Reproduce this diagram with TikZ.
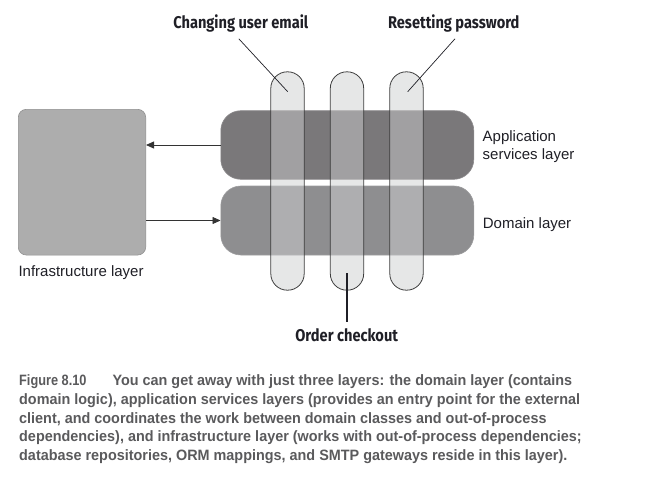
\documentclass[tikz,border=0pt]{standalone}
\usepackage{fontspec}
\setmainfont{Liberation Sans}
\newfontfamily\labelfont[FakeStretch=0.86]{Fira Sans}
\newfontfamily\figfont[FakeStretch=0.85]{Liberation Sans}
\newfontfamily\captionfont[FakeStretch=0.96]{Liberation Sans}
\usetikzlibrary{arrows.meta}

\definecolor{pillgray}{HTML}{E6E7E7}
\definecolor{pillline}{HTML}{3C3C3C}
\definecolor{appgray}{HTML}{7A787A}
\definecolor{appline}{HTML}{8E8C8E}
\definecolor{domgray}{HTML}{8E8E90}
\definecolor{domline}{HTML}{9C9C9E}
\definecolor{infragray}{HTML}{ADADAD}
\definecolor{infraline}{HTML}{8F8F8F}
\definecolor{labelink}{HTML}{1F1F26}
\definecolor{arrowgray}{HTML}{333333}
\definecolor{capgray}{HTML}{5A5A5C}

\begin{document}
\begin{tikzpicture}[x=1pt,y=-1pt,
	layer/.style={rounded corners=20pt, minimum width=253pt, inner sep=0pt, line width=0.6pt},
	pill/.style={rounded corners=16.5pt, minimum width=33pt, minimum height=218pt, inner sep=0pt, fill=pillgray},
	pilltop/.style={rounded corners=16.5pt, fill=pillgray, fill opacity=0.37, draw=pillline, line width=0.8pt},
	usecase/.style={font=\labelfont\bfseries\fontsize{17}{20}\selectfont, text=labelink, inner sep=0pt},
	layername/.style={font=\fontsize{15}{17.6}\selectfont, text=labelink, inner sep=0pt, align=left},
	flow/.style={-{Triangle[length=8pt,width=7pt]}, line width=0.8pt, draw=arrowgray},
	leader/.style={line width=0.7pt, draw=labelink}]
	\useasboundingbox (0,0) rectangle (651,487);
	% use cases, below the layers
	\node[pill] (email) at (287.5,181) {};
	\node[pill] (checkout) at (347,181) {};
	\node[pill] (password) at (406.5,181) {};
	% layers
	\node[layer, minimum height=68.6pt, fill=appgray, draw=appline] (app) at (347.3,145) {};
	\node[layer, minimum height=69pt, fill=domgray, draw=domline] (domain) at (347.3,220.5) {};
	\node[rounded corners=8pt, minimum width=127.4pt, minimum height=145.7pt, inner sep=0pt, fill=infragray, draw=infraline, line width=0.6pt] (infra) at (82,182.2) {};
	% see-through use cases on top
	\foreach \u in {email,checkout,password}
		\draw[pilltop] (\u.south west) rectangle (\u.north east);
	\draw[flow] (app.west) -- (app.west -| infra.east);
	\draw[flow] (domain.west -| infra.east) -- (domain.west);
	% labels
	\node[layername, anchor=west] (applabel) at (482.5,146.6) {Application\\services layer};
	\node[layername, anchor=base west] (domlabel) at (482.7,228.3) {Domain layer};
	\node[layername, anchor=base west] (infralabel) at (18.3,276.7) {Infrastructure layer};
	\node[usecase, anchor=base] (emaillabel) at (240.8,28.3) {Changing user email};
	\node[usecase, anchor=base] (passlabel) at (453.8,28.3) {Resetting password};
	\node[usecase, anchor=base] (orderlabel) at (346.7,341.7) {Order checkout};
	\coordinate (emailend) at (287.7,91.7);
	\coordinate (passend) at (407.7,91.7);
	\coordinate (orderend) at (347.3,273.3);
	\draw[leader] ([xshift=-2pt,yshift=-6.5pt]emaillabel.south) -- (emailend);
	\draw[leader] ([xshift=1.2pt,yshift=-6.5pt]passlabel.south) -- (passend);
	\draw[leader, line width=1.8pt] (orderend) -- ([yshift=7pt]orderend |- orderlabel.north);
	% caption (base anchor sits on its last line)
	\node[anchor=base west, align=left, font=\captionfont\bfseries\fontsize{15}{18.65}\selectfont, text=capgray, inner sep=0pt] (caption) at (19,460.3)
		{{\figfont\bfseries Figure 8.10}\hspace{26pt}You can get away with just three layers: the domain layer (contains\\
		domain logic), application services layers (provides an entry point for the external\\
		client, and coordinates the work between domain classes and out-of-process\\
		dependencies), and infrastructure layer (works with out-of-process dependencies;\\
		database repositories, ORM mappings, and SMTP gateways reside in this layer).};
\end{tikzpicture}
\end{document}
